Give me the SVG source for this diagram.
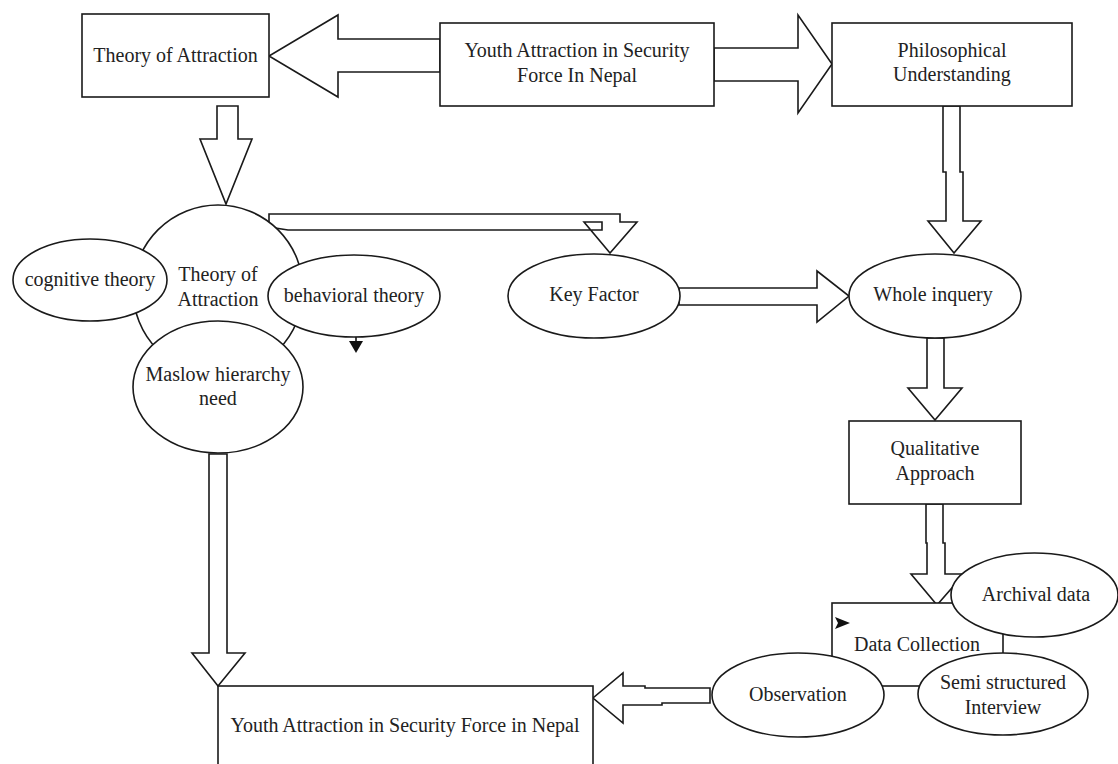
<svg xmlns="http://www.w3.org/2000/svg" width="1118" height="764" viewBox="0 0 1118 764">
<style>
.s{fill:#fff;stroke:#1a1a1a;stroke-width:1.6}
.a{fill:#fff;stroke:#1a1a1a;stroke-width:1.6;stroke-linejoin:miter}
.t{font-family:"Liberation Serif","Times New Roman",serif;font-size:20px;fill:#222;text-anchor:middle}
.m{fill:#111;stroke:none}
</style>
<rect width="1118" height="764" fill="#fff"/>
<g id="connectors">
<polygon class="a" points="440,39 338,39 338,15 269,56 338,97 338,72 440,72"/>
<polygon class="a" points="714,48 798,48 798,15 832,64 798,113 798,81 714,81"/>
<polygon class="a" points="217,106 238,106 238,139 252,139 226,204 200,139 217,139"/>
<polygon class="a" points="943,106 960,106 960,172 963,172 963,221 981,221 954,253 928,221 946,221 946,172 943,172"/>
<polygon class="a" points="269,214 620,214 620,222 637,222 610,253 584,222 602,222 602,230 288,230 269,227"/>
<polygon class="a" points="679,288 817,288 817,271 849,296 817,322 817,305 679,305"/>
<polygon class="a" points="927,338 944,338 944,388 962,388 935,420 908,388 927,388"/>
<polygon class="a" points="926,504 943,504 943,543 945,543 945,574 964,574 937,605 911,574 927,574 927,543 926,543"/>
<polygon class="a" points="710,688 645,688 645,686 623,686 623,673 593,698 623,723 623,705 662,705 662,703 710,703"/>
<polygon class="a" points="209,454 227,454 227,653 245,653 218,686 192,653 209,653"/>
<line x1="356" y1="337" x2="356" y2="342" stroke="#111" stroke-width="1.6"/>
<polygon class="m" points="349,341 363,341 356,353"/>
</g>
<g id="theory-box">
<rect class="s" x="82" y="14" width="187" height="83"/>
<text class="t" x="175.5" y="62">Theory of Attraction</text>
</g>
<g id="youth-top">
<rect class="s" x="440" y="23" width="274" height="83"/>
<text class="t" x="577" y="57">Youth Attraction in Security</text>
<text class="t" x="577" y="82">Force In Nepal</text>
</g>
<g id="philosophical">
<rect class="s" x="832" y="23" width="240" height="83"/>
<text class="t" x="952" y="57">Philosophical</text>
<text class="t" x="952" y="81">Understanding</text>
</g>
<g id="theory-circle">
<circle class="s" cx="218" cy="290" r="85"/>
<text class="t" x="218" y="281">Theory of</text>
<text class="t" x="218" y="306">Attraction</text>
</g>
<g id="cognitive">
<ellipse class="s" cx="90" cy="280" rx="77" ry="41"/>
<text class="t" x="90" y="286">cognitive theory</text>
</g>
<g id="behavioral">
<ellipse class="s" cx="354" cy="296" rx="86" ry="41"/>
<text class="t" x="354" y="302">behavioral theory</text>
</g>
<g id="maslow">
<ellipse class="s" cx="218" cy="387" rx="85" ry="66"/>
<text class="t" x="218" y="381">Maslow hierarchy</text>
<text class="t" x="218" y="405">need</text>
</g>
<g id="key-factor">
<ellipse class="s" cx="594" cy="296" rx="86" ry="42"/>
<text class="t" x="594" y="301">Key Factor</text>
</g>
<g id="whole-inquery">
<ellipse class="s" cx="935" cy="296" rx="86" ry="42"/>
<text class="t" x="933" y="301">Whole inquery</text>
</g>
<g id="qualitative">
<rect class="s" x="849" y="421" width="172" height="83"/>
<text class="t" x="935" y="455">Qualitative</text>
<text class="t" x="935" y="480">Approach</text>
</g>
<g id="data-collection">
<rect class="s" x="832" y="603" width="171" height="83"/>
<polygon class="m" points="835,617 850,623 835,629 838,623"/>
<text class="t" x="917" y="651">Data Collection</text>
</g>
<g id="archival">
<ellipse class="s" cx="1034.5" cy="595" rx="83.5" ry="42"/>
<text class="t" x="1036" y="601">Archival data</text>
</g>
<g id="observation">
<ellipse class="s" cx="798" cy="695" rx="86" ry="42"/>
<text class="t" x="798" y="701">Observation</text>
</g>
<g id="semi-structured">
<ellipse class="s" cx="1003" cy="694" rx="85" ry="41"/>
<text class="t" x="1003" y="689">Semi structured</text>
<text class="t" x="1003" y="714">Interview</text>
</g>
<g id="youth-bottom">
<rect class="s" x="218" y="686" width="375" height="120"/>
<text class="t" x="405" y="732">Youth Attraction in Security Force in Nepal</text>
</g>
</svg>
